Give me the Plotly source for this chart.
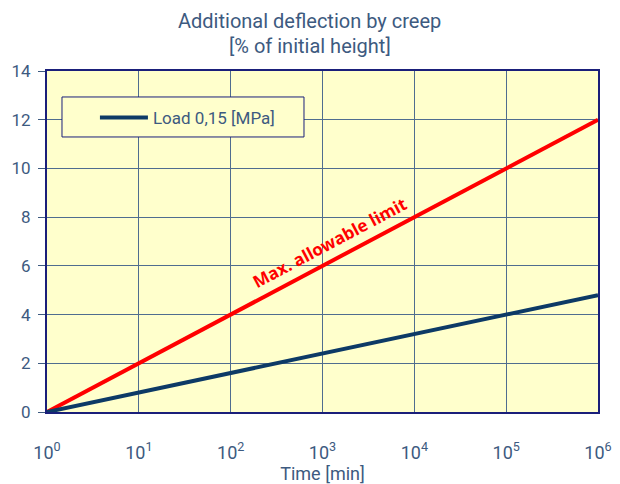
import plotly.graph_objects as go

time_min = [1, 10, 100, 1000, 10000, 100000, 1000000]
load_015 = [0, 0.8, 1.6, 2.4, 3.2, 4.0, 4.8]
max_limit = [0, 2, 4, 6, 8, 10, 12]
x_tick_vals = [1, 10, 100, 1000, 10000, 100000, 1000000]
x_tick_text = ["10<sup>0</sup>", "10<sup>1</sup>", "10<sup>2</sup>", "10<sup>3</sup>",
               "10<sup>4</sup>", "10<sup>5</sup>", "10<sup>6</sup>"]
y_tick_vals = [0, 2, 4, 6, 8, 10, 12, 14]

TXT = "#3d5a80"
GRID = "#4f6d8f"
FRAME = "#1a1f7a"
BG = "#ffffcc"
FONT = "Roboto"

fig = go.Figure()
fig.add_trace(go.Scatter(x=time_min, y=max_limit, mode="lines",
                         line=dict(color="#ff0000", width=4), showlegend=False,
                         hoverinfo="skip"))
fig.add_trace(go.Scatter(x=time_min, y=load_015, mode="lines",
                         line=dict(color="#0d3a66", width=4),
                         name="Load 0,15 [MPa]"))

fig.add_annotation(x=3.08, y=6.95, xref="x", yref="y",
                   text="<b>Max. allowable limit</b>", showarrow=False,
                   textangle=-28, font=dict(family="Open Sans", size=17, color="#ff0000"))

# title lines
fig.add_annotation(x=0.477, y=1.148, xref="paper", yref="paper", yanchor="middle",
                   text="Additional deflection by creep", showarrow=False,
                   font=dict(family=FONT, size=20, color=TXT))
fig.add_annotation(x=0.477, y=1.073, xref="paper", yref="paper", yanchor="middle",
                   text="[% of initial height]", showarrow=False,
                   font=dict(family=FONT, size=20, color=TXT))

# legend frame
fig.add_shape(type="rect", xref="paper", yref="paper",
              x0=0.0272, x1=0.4664, y0=0.8065, y1=0.9238,
              fillcolor=BG, line=dict(color=FRAME, width=1), layer="above")

fig.update_layout(
    width=612, height=476,
    margin=dict(l=39, r=22, t=63, b=72, autoexpand=False),
    paper_bgcolor="white",
    plot_bgcolor=BG,
    font=dict(family=FONT, color=TXT, size=16),
    legend=dict(x=0.087, y=0.862, xanchor="left", yanchor="middle",
                bgcolor="rgba(0,0,0,0)", borderwidth=0,
                font=dict(family=FONT, size=17, color=TXT),
                itemwidth=48),
    xaxis=dict(type="log", range=[0, 6], tickvals=x_tick_vals, ticktext=x_tick_text,
               showgrid=True, gridcolor=GRID, gridwidth=1,
               showline=True, linecolor=FRAME, linewidth=2, mirror=True,
               ticks="", ticklabelstandoff=23, zeroline=False, automargin=False,
               tickfont=dict(family=FONT, size=18, color=TXT),
               title=dict(text="Time [min]", standoff=3,
                          font=dict(family=FONT, size=18, color=TXT))),
    yaxis=dict(range=[0, 14], tickvals=y_tick_vals,
               showgrid=True, gridcolor=GRID, gridwidth=1,
               showline=True, linecolor=FRAME, linewidth=2, mirror=True,
               ticks="outside", ticklen=7, tickcolor=TXT, zeroline=False,
               automargin=False, ticklabelstandoff=4,
               tickfont=dict(family=FONT, size=17, color=TXT)),
)

fig.write_html("out.html")
